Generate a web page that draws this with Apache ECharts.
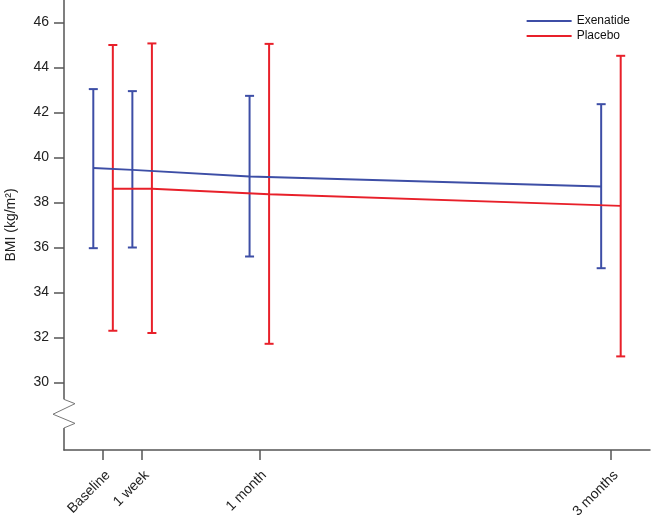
<!DOCTYPE html>
<html>
<head>
<meta charset="utf-8">
<script src="https://cdn.jsdelivr.net/npm/echarts@6/dist/echarts.min.js"></script>
<style>html,body{margin:0;padding:0;background:#fff;}#c{width:652px;height:518px;}</style>
</head>
<body>
<div id="c"></div>
<script>
// Time points (weeks since baseline) and their tick labels
const weeks = [0, 1, 4, 13];
const tickLabels = ['Baseline', '1 week', '1 month', '3 months'];

// Exenatide: mean and error bar limits (BMI kg/m2)
const exenatideMean  = [39.53, 39.45, 39.16, 38.71];
const exenatideUpper = [43.04, 42.95, 42.74, 42.37];
const exenatideLower = [35.97, 36.00, 35.60, 35.08];

// Placebo
const placeboMean  = [38.61, 38.61, 38.37, 37.85];
const placeboUpper = [45.00, 45.07, 45.05, 44.52];
const placeboLower = [32.30, 32.20, 31.72, 31.16];

// Y-axis tick values
const yTicks = [30, 32, 34, 36, 38, 40, 42, 44, 46];

const BLUE = '#3d4ea6';
const RED = '#e8202a';
const DODGE = 0.25;
const BREAK_TOP = 29.25, BREAK_BOTTOM = 27.98;

const exX = weeks.map(w => w - DODGE);
const plX = weeks.map(w => w + DODGE);

function errBar(color) {
  return function (params, api) {
    const x = api.value(0), lo = api.value(1), hi = api.value(2);
    const a = api.coord([x, lo]), b = api.coord([x, hi]);
    const hw = 4.5;
    const style = { stroke: color, lineWidth: 2 };
    return {
      type: 'group',
      children: [
        { type: 'line', shape: { x1: a[0], y1: a[1], x2: b[0], y2: b[1] }, style },
        { type: 'line', shape: { x1: a[0] - hw, y1: a[1], x2: a[0] + hw, y2: a[1] }, style },
        { type: 'line', shape: { x1: b[0] - hw, y1: b[1], x2: b[0] + hw, y2: b[1] }, style }
      ]
    };
  };
}

const chart = echarts.init(document.getElementById('c'), null, { renderer: 'canvas' });
const font = 'Liberation Sans, Arial, sans-serif';
chart.setOption({
  animation: false,
  backgroundColor: '#fff',
  textStyle: { fontFamily: font },
  grid: { left: 64, right: 2, top: 0, bottom: 68, containLabel: false, outerBoundsMode: 'none' },
  legend: {
    data: [{ name: 'Exenatide', icon: 'rect' }, { name: 'Placebo', icon: 'rect' }],
    orient: 'vertical', right: 17, top: 10,
    itemWidth: 45, itemHeight: 2, itemGap: 3,
    textStyle: { fontSize: 12, color: '#111', fontFamily: font }
  },
  xAxis: {
    type: 'value', min: -1, max: 14,
    splitLine: { show: false },
    axisLine: { onZero: false, lineStyle: { color: '#555', width: 1.5 } },
    axisTick: { customValues: weeks, length: 10, inside: false, lineStyle: { color: '#555', width: 1.5 } },
    axisLabel: {
      customValues: weeks, rotate: 45, margin: 18, fontSize: 14, color: '#222',
      verticalAlign: 'top',
      formatter: v => tickLabels[weeks.indexOf(v)] || ''
    }
  },
  yAxis: {
    type: 'value', min: 27, max: 47,
    name: 'BMI (kg/m²)', nameLocation: 'middle', nameGap: 46,
    nameTextStyle: { fontSize: 14, color: '#222', fontFamily: font },
    splitLine: { show: false },
    axisLine: { show: true, onZero: false, lineStyle: { color: '#555', width: 1.5 } },
    axisTick: { show: true, inside: false, customValues: yTicks, length: 10, lineStyle: { color: '#555', width: 1.5 } },
    axisLabel: { customValues: yTicks, inside: false, margin: 15, fontSize: 14, color: '#222' }
  },
  series: [
    {
      name: 'Exenatide', type: 'line', color: BLUE, symbol: 'none',
      lineStyle: { width: 2, color: BLUE },
      data: exX.map((x, i) => [x, exenatideMean[i]]), z: 3
    },
    {
      name: 'Placebo', type: 'line', color: RED, symbol: 'none',
      lineStyle: { width: 2, color: RED },
      data: plX.map((x, i) => [x, placeboMean[i]]), z: 3
    },
    {
      name: 'Exenatide', type: 'custom', color: BLUE, renderItem: errBar(BLUE),
      encode: { x: 0, y: [1, 2] },
      data: exX.map((x, i) => [x, exenatideLower[i], exenatideUpper[i]]), z: 2
    },
    {
      name: 'Placebo', type: 'custom', color: RED, renderItem: errBar(RED),
      encode: { x: 0, y: [1, 2] },
      data: plX.map((x, i) => [x, placeboLower[i], placeboUpper[i]]), z: 2
    }
  ]
});

// axis break symbol
const ax = chart.convertToPixel({ xAxisIndex: 0 }, -1);
const yT = chart.convertToPixel({ yAxisIndex: 0 }, BREAK_TOP);
const yB = chart.convertToPixel({ yAxisIndex: 0 }, BREAK_BOTTOM);
const h = yB - yT;
chart.setOption({
  graphic: [
    { type: 'rect', z: 100, shape: { x: ax - 3, y: yT, width: 6, height: h }, style: { fill: '#fff' } },
    {
      type: 'polyline', z: 101,
      shape: { points: [[ax, yT], [ax + 11, yT + h * 0.15], [ax - 11, yT + h * 0.52], [ax + 11, yT + h * 0.84], [ax, yB]] },
      style: { stroke: '#777', lineWidth: 1, fill: 'none' }
    }
  ]
});
</script>
</body>
</html>
